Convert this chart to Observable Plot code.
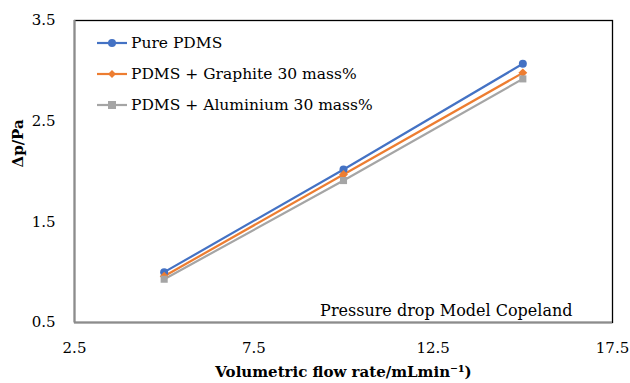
<!DOCTYPE html>
<html><head><meta charset="utf-8">
<script src="https://cdn.jsdelivr.net/npm/d3@7"></script>
<script src="https://cdn.jsdelivr.net/npm/@observablehq/plot@0.6"></script>
<style>
body{margin:0;background:#fff;}
#wrap{position:relative;width:630px;height:383px;font-family:"DejaVu Serif",serif;}
#legend{position:absolute;left:97px;top:27px;font-family:"DejaVu Serif",serif;font-size:15.5px;color:#000;}
#legend .row{display:flex;align-items:center;height:31px;}
#legend span{font-family:"DejaVu Serif",serif;}
#legend svg{margin-right:2px;}
</style></head>
<body><div id="wrap"></div>
<script>
const flowRates = [5, 10, 15];
const purePDMS = [1.0, 2.02, 3.07];
const graphite30 = [0.96, 1.97, 2.98];
const aluminium30 = [0.93, 1.91, 2.92];
const seriesNames = ["Pure PDMS", "PDMS + Graphite 30 mass%", "PDMS + Aluminium 30 mass%"];
const seriesColors = ["#4472C4", "#ED7D31", "#A5A5A5"];
const seriesSymbols = ["circle", "diamond2", "square"];
const xTicks = [2.5, 7.5, 12.5, 17.5];
const yTicks = [0.5, 1.5, 2.5, 3.5];

const allValues = [purePDMS, graphite30, aluminium30];
const data = [];
allValues.forEach((vals, i) => vals.forEach((v, j) => data.push({series: seriesNames[i], x: flowRates[j], y: v})));

const font = '"DejaVu Serif",serif';
const chart = Plot.plot({
  width: 630, height: 383,
  marginLeft: 74, marginTop: 20, marginRight: 18, marginBottom: 61,
  style: {fontFamily: font, fontSize: "15px", background: "#fff", color: "#000"},
  x: {domain: [2.5, 17.5], ticks: xTicks, tickSize: 0, tickPadding: 20, tickFormat: d => d.toFixed(1), label: null},
  y: {domain: [0.5, 3.5], ticks: yTicks, tickSize: 0, tickPadding: 19, tickFormat: d => d.toFixed(1), label: null},
  color: {domain: seriesNames, range: seriesColors},
  symbol: {domain: seriesNames, range: seriesSymbols},
  marks: [
    Plot.frame({stroke: "#000", strokeWidth: 1.3}),
    Plot.ruleX([2.5], {stroke: "#8c8c8c", strokeWidth: 2}),
    Plot.ruleY([0.5], {stroke: "#8c8c8c", strokeWidth: 2}),
    Plot.line(data, {x: "x", y: "y", z: "series", stroke: "series", strokeWidth: 2.2}),
    Plot.dot(data, {x: "x", y: "y", fill: "series", symbol: "series", r: 4, stroke: null}),
    Plot.text(["Pressure drop Model Copeland"], {frameAnchor: "bottom-right", dx: -40, dy: -7, fontSize: 16, fill: "#000"}),
    Plot.text(["Δp/Pa"], {frameAnchor: "left", dx: -56, dy: -4, rotate: -90, fontWeight: "bold", fontSize: 15, fill: "#000"}),
    Plot.text(["Volumetric flow rate/mLmin⁻¹)"], {frameAnchor: "bottom", dy: 54, fontWeight: "bold", fontSize: 15, fill: "#000"})
  ]
});
const wrap = document.getElementById("wrap");
wrap.appendChild(chart);

const legend = document.createElement("div");
legend.id = "legend";
seriesNames.forEach((name, i) => {
  const row = document.createElement("div");
  row.className = "row";
  const sym = seriesSymbols[i];
  let marker = "";
  if (sym === "circle") marker = `<circle cx="15" cy="8" r="4" fill="${seriesColors[i]}"/>`;
  else if (sym === "diamond2") marker = `<path d="M15 4 L19 8 L15 12 L11 8 Z" fill="${seriesColors[i]}"/>`;
  else marker = `<rect x="11" y="4" width="8" height="8" fill="${seriesColors[i]}"/>`;
  row.innerHTML = `<svg width="32" height="16"><line x1="0" y1="8" x2="30" y2="8" stroke="${seriesColors[i]}" stroke-width="2.2"/>${marker}</svg><span>${name}</span>`;
  legend.appendChild(row);
});
wrap.appendChild(legend);
</script></body></html>
